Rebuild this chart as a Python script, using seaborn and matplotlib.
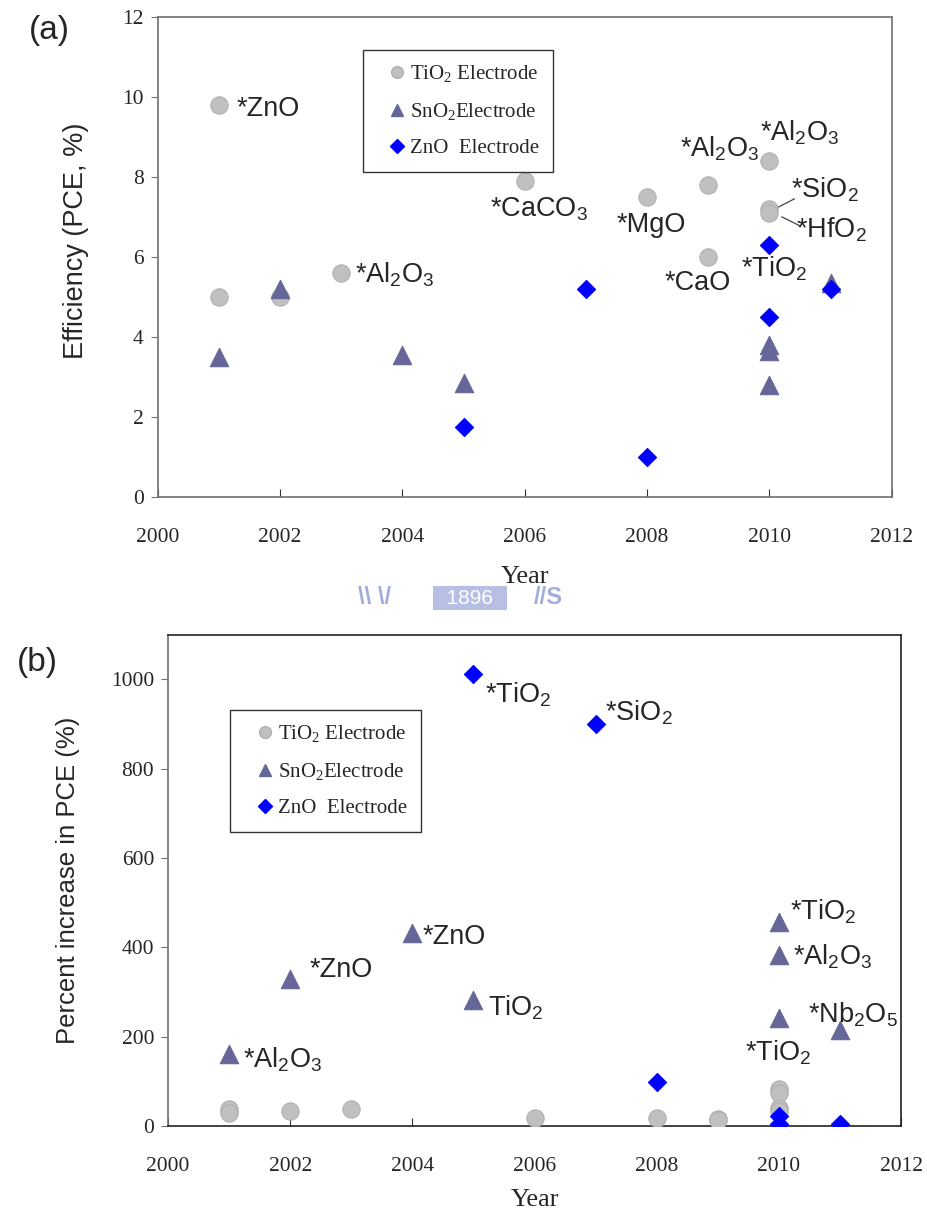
import seaborn as sns
import pandas as pd
import numpy as np
import matplotlib.pyplot as plt
from matplotlib.lines import Line2D

# ---- (a) efficiency data ----
tio2_year_a = [2001, 2001, 2002, 2003, 2006, 2008, 2009, 2009, 2010, 2010, 2010]
tio2_pce_a = [9.8, 5.0, 5.0, 5.6, 7.9, 7.5, 7.8, 6.0, 8.4, 7.2, 7.1]
sno2_year_a = [2001, 2002, 2004, 2005, 2010, 2010, 2010, 2011]
sno2_pce_a = [3.5, 5.2, 3.55, 2.85, 3.8, 3.65, 2.8, 5.35]
zno_year_a = [2005, 2007, 2008, 2010, 2010, 2011]
zno_pce_a = [1.75, 5.2, 1.0, 6.3, 4.5, 5.2]

# ---- (b) percent increase data ----
tio2_year_b = [2001, 2001, 2002, 2003, 2006, 2008, 2009, 2009, 2010, 2010, 2010, 2010]
tio2_inc_b = [37, 30, 33, 37, 17, 19, 16, 13, 82, 74, 41, 33]
sno2_year_b = [2001, 2002, 2004, 2005, 2010, 2010, 2010, 2011]
sno2_inc_b = [162, 330, 433, 283, 457, 383, 242, 216]
zno_year_b = [2005, 2007, 2008, 2010, 2010, 2011]
zno_inc_b = [1012, 900, 99, 22, 4, 4]

series_names = ["TiO2", "SnO2", "ZnO"]
legend_labels = [r"TiO$\mathregular{_2}$ Electrode", r"SnO$\mathregular{_2}$Electrode", "ZnO  Electrode"]
colors = {"TiO2": "#c0c0c0", "SnO2": "#666699", "ZnO": "#0000ff"}
edges = {"TiO2": "#b0b0b0", "SnO2": "#666699", "ZnO": "#0000ff"}
markers = {"TiO2": "o", "SnO2": "^", "ZnO": "D"}
sizes = {"TiO2": 155, "SnO2": 175, "ZnO": 85}

# labels: (text, x, y, ha)
labels_a = [
    ("*ZnO", 2001.29, 9.7, "left"),
    (r"*Al$\mathregular{_2}$O$\mathregular{_3}$", 2003.22, 5.55, "left"),
    (r"*CaCO$\mathregular{_3}$", 2006.24, 7.2, "center"),
    ("*MgO", 2008.07, 6.8, "center"),
    (r"*Al$\mathregular{_2}$O$\mathregular{_3}$", 2009.18, 8.7, "center"),
    ("*CaO", 2008.82, 5.35, "center"),
    (r"*Al$\mathregular{_2}$O$\mathregular{_3}$", 2010.49, 9.1, "center"),
    (r"*SiO$\mathregular{_2}$", 2010.36, 7.67, "left"),
    (r"*HfO$\mathregular{_2}$", 2010.44, 6.67, "left"),
    (r"*TiO$\mathregular{_2}$", 2010.08, 5.7, "center"),
]
leaders_a = [((2010.13, 7.23), (2010.41, 7.45)), ((2010.2, 7.0), (2010.49, 6.78))]

labels_b = [
    (r"*TiO$\mathregular{_2}$", 2005.19, 966, "left"),
    (r"*SiO$\mathregular{_2}$", 2007.15, 926, "left"),
    ("*ZnO", 2004.17, 424, "left"),
    ("*ZnO", 2002.32, 350, "left"),
    (r"TiO$\mathregular{_2}$", 2005.24, 265, "left"),
    (r"*Al$\mathregular{_2}$O$\mathregular{_3}$", 2001.23, 148, "left"),
    (r"*TiO$\mathregular{_2}$", 2010.18, 480, "left"),
    (r"*Al$\mathregular{_2}$O$\mathregular{_3}$", 2010.23, 379, "left"),
    (r"*Nb$\mathregular{_2}$O$\mathregular{_5}$", 2010.47, 249, "left"),
    (r"*TiO$\mathregular{_2}$", 2009.98, 164, "center"),
]

sns.set_style("white")
serif = "Liberation Serif"
sans = "Liberation Sans"

def make_df(yrs, vals):
    rows = []
    for name, x, y in zip(series_names, yrs, vals):
        rows.append(pd.DataFrame({"Year": x, "Value": y, "Electrode": name}))
    return pd.concat(rows, ignore_index=True)

df_a = make_df([tio2_year_a, sno2_year_a, zno_year_a], [tio2_pce_a, sno2_pce_a, zno_pce_a])
df_b = make_df([tio2_year_b, sno2_year_b, zno_year_b], [tio2_inc_b, sno2_inc_b, zno_inc_b])

fig = plt.figure(figsize=(9.28, 12.16), dpi=100)
ax1 = fig.add_axes([0.170, 0.5913, 0.791, 0.395])
ax2 = fig.add_axes([0.181, 0.074, 0.790, 0.404])

def draw(ax, df):
    for name in series_names:
        sub = df[df["Electrode"] == name]
        sns.scatterplot(data=sub, x="Year", y="Value", marker=markers[name], s=sizes[name],
                        color=colors[name], edgecolor=edges[name], linewidth=0.8, ax=ax,
                        legend=False, zorder=3)
    ax.set_xlim(2000, 2012)
    ax.set_xticks(range(2000, 2013, 2))
    for sp in ax.spines.values():
        sp.set_color("#707070")
        sp.set_linewidth(1.2)
    ax.tick_params(axis="y", direction="out", length=5, color="#707070", left=True, pad=5)
    ax.tick_params(axis="x", direction="in", length=6, color="#333333", bottom=True, pad=22)
    for t in ax.get_xticklabels() + ax.get_yticklabels():
        t.set_fontfamily(serif)
        t.set_fontsize(15.5)

def add_legend(ax, loc_xy):
    handles = [Line2D([], [], linestyle="none", marker=markers[n], markersize=8.5 if n != "ZnO" else 7,
                      markerfacecolor=colors[n], markeredgecolor=edges[n]) for n in series_names]
    leg = ax.legend(handles, legend_labels, loc="upper left", bbox_to_anchor=loc_xy,
                    prop={"family": serif, "size": 15}, frameon=True, fancybox=False,
                    framealpha=1, handletextpad=-0.35, handlelength=2.0, labelspacing=0.8,
                    borderpad=0.65, borderaxespad=0)
    leg.get_frame().set_edgecolor("#333333")
    leg.get_frame().set_linewidth(1.0)

# (a)
draw(ax1, df_a)
ax1.set_ylim(0, 12)
ax1.set_yticks(range(0, 13, 2))
ax1.set_xlabel("Year", fontfamily=serif, fontsize=19, labelpad=14)
ax1.set_ylabel("Efficiency (PCE, %)", fontfamily=sans, fontsize=19.5)
ax1.yaxis.set_label_coords(-0.093, 0.533)
add_legend(ax1, (0.279, 0.931))
for txt, x, y, ha in labels_a:
    ax1.text(x, y, txt, ha=ha, va="center", fontfamily=sans, fontsize=19.5)
for (x0, y0), (x1, y1) in leaders_a:
    ax1.plot([x0, x1], [y0, y1], color="#444444", linewidth=0.9)

# (b)
draw(ax2, df_b)
ax2.set_ylim(0, 1100)
ax2.set_yticks(range(0, 1001, 200))
ax2.set_xlabel("Year", fontfamily=serif, fontsize=19, labelpad=10)
ax2.set_ylabel("Percent increase in PCE (%)", fontfamily=sans, fontsize=18.5, labelpad=22)
ax2.spines["right"].set_color("#222222")
ax2.spines["top"].set_color("#222222")
ax2.spines["bottom"].set_color("#222222")
add_legend(ax2, (0.085, 0.847))
for txt, x, y, ha in labels_b:
    ax2.text(x, y, txt, ha=ha, va="center", fontfamily=sans, fontsize=19.5)

fig.text(49 / 928, 1 - 30 / 1216, "(a)", fontfamily=sans, fontsize=24, ha="center", va="center")
fig.text(37 / 928, 1 - 662 / 1216, "(b)", fontfamily=sans, fontsize=24, ha="center", va="center")

# faint watermark strip between panels
fig.text(375 / 928, 1 - 598 / 1216, "\\\\ \\/", fontfamily=sans, fontsize=17, color="#a3addc",
         fontweight="bold", ha="center", va="center")
fig.text(470 / 928, 1 - 598 / 1216, "  1896  ", fontfamily=sans, fontsize=15, color="white",
         ha="center", va="center",
         bbox=dict(facecolor="#b7c0e4", edgecolor="none", pad=2))
fig.text(548 / 928, 1 - 598 / 1216, "//S", fontfamily=sans, fontsize=17, color="#a3addc",
         fontweight="bold", ha="center", va="center")

fig.savefig("out.png", dpi=100)
